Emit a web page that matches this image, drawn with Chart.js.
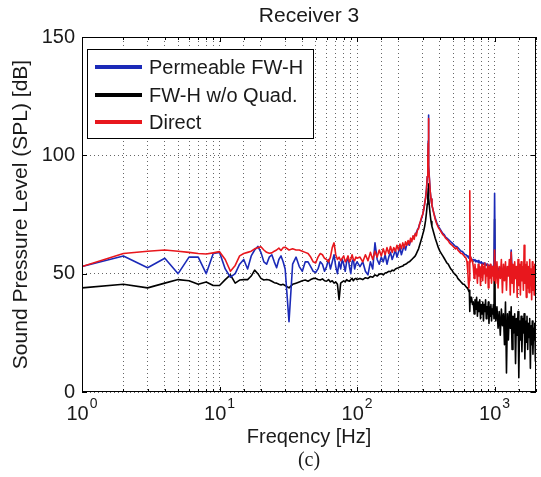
<!DOCTYPE html>
<html>
<head>
<meta charset="utf-8">
<script src="https://cdn.jsdelivr.net/npm/chart.js@4.4.0/dist/chart.umd.min.js"></script>
<style>
  html, body { margin: 0; padding: 0; background: #fff; }
  #wrap { position: relative; width: 541px; height: 477px; }
</style>
</head>
<body>
<div id="wrap"><canvas id="chart"></canvas></div>
<script>
// frequency bins [Hz]
const freqs = [
  1,2,3,4,5,6,7,8,9,10,11,12,13,14,15,16,17,18,19,20,21,22,23,24,25,26,27,28,29,30,
  32,34,36,38,40,42,44,46,48,50,52,54,56,58,60,62,64,66,68,70,72,74,76,78,80,82,84,86,88,90,92,94,96,98,100,
  105,110,115,120,125,130,135,140,145,150,155,160,165,170,175,180,185,190,195,200,205,210,215,220,225,230,235,240,245,250,255,260,265,270,275,280,285,290,295,
  300,305,310,315,320,324,327,329,330,331,333,336,340,345,350,360,370,380,390,
  400,410,420,430,440,450,460,470,480,490,500,510,520,530,540,550,560,570,580,590,600,610,620,630,640,645,650,655,660,665,670,680,690,
  700,710,720,730,740,750,760,770,780,790,800,810,820,830,840,850,860,870,880,890,900,910,920,930,940,950,960,970,980,990,1000,1010,
  1020,1040,1060,1080,1100,1120,1140,1160,1180,1200,1220,1240,1260,1280,1300,1320,1340,1360,1380,1400,1420,1440,1460,1480,1500,1520,1540,1560,1580,1600,1620,1640,1660,1680,1700,1720,1740,1760,1780,1800,1820,1840,1860,1880,1900,1920,1940,1960,1980,2000
];

// SPL [dB], one value per bin
const permeable = [
  53,57.5,52.5,56.5,50,57,57,50,58.5,59,52,48.5,50,54,56,52,57.5,60,61.5,59,55,54,57,58,55,52.5,56,57.5,55,52,
  29.7,54,57,53,51,55,55,53,51,50.5,52,55,54,51,53,56,52,55,58,53,50,55,52,56,54,51,55,57,53,50,55,56,52,54,55,
  53,55,51,49.5,55,52,63,56,54,57,55,58,54,57,59,56,58,60,57,59,61,58,60,62,60,62.5,63,62,64,64.5,65,66,66.5,67.5,68.5,69.5,71,72,73.5,
  75,77,79.5,82,86,91,98,106,117,104,96,90,85,81.5,79,76,73.5,71.5,70,
  69,68,67,66.5,65.5,65,64.5,64,63.5,63,62.5,62,61.5,61.5,61,60.5,60,59.5,59.5,59,58.5,58,58,57.5,57,57,56.5,57,70,57,56.5,56,56,
  56,55.5,56,55,55.5,55,55.5,54.5,55,54.5,55,54,54.5,54,54.5,54,53.5,54,53.5,54,53,53.5,53,53.5,53,52.5,53,52.5,53,52.5,84,53,
  52,53,51,52.5,51,53,50,52,51,53,50,52,51,52.5,50,60,51,52,50,52.5,50.5,52,49.5,52,50,51.5,49.5,52,50,51.5,49,52,50,51.5,49,51.5,49.5,51,49,51.5,49.5,51,48.5,51,49,50.5,48.5,50.5,49,50
];

const noQuad = [
  44,45.5,44,46,47.5,47,45.5,46.5,45,45,47.5,49.5,46,47.3,47.5,47.5,49,51.5,50,48,47.3,47.5,47.3,46.8,46.2,46,45.5,45.2,45.5,45,
  44,45.5,46,46.5,47,47.3,46.8,47.5,48,48,47.5,47.3,47.8,47,46.8,47.5,46.5,47,46,46.5,45.5,39,46,46.5,47,46.5,47.5,47,46.8,47.5,48,47,47.8,48,47.5,
  48,47.5,48.3,48,48.8,48.5,49.5,49,49.8,50,49.5,50.3,50.5,51,50.8,51.5,51.2,52,52.3,52.5,52.8,53,53.2,53.8,54,54.3,54.8,55,55.5,56,56.5,57,57.5,58.5,59.5,60.5,62,63.5,65,
  66.5,68,70,72.5,76,79.5,83,86,88,86,82,78,75,72,70,67.5,65,63,61,
  59.5,58.5,57.5,56.5,55.5,54.5,54,53,52,51.5,50.5,50,49.5,49,48,47.5,47,46.5,46,45.5,45.5,45,44.5,44,43.5,43,42.5,43,34,40,38,40,37,
  38,33,39,35,40,32,38,34,39,31,37,33,38,30,37,34,39,31,36,33,38,29,36,32,37,30,35,33,37,31,73,35,
  30,36,27,34,24,35,28,33,20,38,8,33,22,34,27,36,18,32,25,33,12,31,24,34,6,30,22,32,17,31,25,33,14,30,21,32,18,29,23,31,10,28,20,30,16,27,22,29,13,25
];

const direct = [
  53,58.5,59.5,60,59.5,59,58.5,58.3,58.8,59.3,56,51,53.5,57.5,58.5,59,59.5,60.5,61,61.4,60,59,58.6,58.8,59.5,60,60.8,59.8,61,61.2,
  60,60.5,60,60,59.5,59,58.5,57,55,54.5,57,58.5,58,56.5,56,55,57,61,63,58,56,57,55.5,56.5,57.5,55,56,57.5,55,56,58,56,55.5,57,56.5,
  57,55,58,55.5,59,56,59.5,57,60,57.5,60.5,58,61,58.5,61.5,59,61,59.5,62,60,62.5,60.5,63,61,63.5,62,64,62.5,65,63.5,66,64.5,67,66,68.5,69,71,72.5,74,
  75,77,79.5,82,86,91,98,105,115.5,103,95,89.5,85,81.5,79,76,73,71,69.5,
  68.5,67.5,66.5,66,65,64.5,64,63,62.5,62,61.5,61,60.5,61,60,59.5,59,58.5,58.5,58,57.5,57,56.5,55,50,46,44,47,85,55,57,56,55.5,
  53,48,54,50,52,46,54,49,53,45,52,54,47,53,50,54.5,46,52,49,54,44,53,48,54,51,46,53,49,52,47,60,52,
  46,55,44,53,48,56,42,54,47,55,43,53,49,56,41,59,46,54,42,55,48,53,40,56,45,54,41,55,47,53,43,62,46,54,40,55,44,53,42,56,45,52,39,55,43,53,41,54,44,50
];

const seriesLabels = ['Permeable FW-H', 'FW-H w/o Quad.', 'Direct'];
const xDecades = [1, 10, 100, 1000];
const xExponents = ['0', '1', '2', '3'];
const yTicks = [0, 50, 100, 150];

[permeable, noQuad, direct].forEach((s, i) => {
  if (s.length !== freqs.length) throw new Error(seriesLabels[i] + ' has ' + s.length + ' values, expected ' + freqs.length);
});

const FONT = "'Liberation Sans', Arial, sans-serif";
const TEXT = '#1a1a1a';

const pts = (vals) => freqs.map((f, i) => ({ x: f, y: vals[i] }));

// frame, inward ticks, legend box, titles, x tick labels with exponents
const decor = {
  id: 'decor',
  afterDatasetsDraw(chart) {
    const { ctx, chartArea: a, scales: { x, y } } = chart;
    ctx.save();
    ctx.strokeStyle = '#000';
    ctx.lineWidth = 1;
    ctx.strokeRect(a.left + 0.5, a.top + 0.5, a.right - a.left - 1, a.bottom - a.top - 1);

    ctx.beginPath();
    x.ticks.forEach(t => {
      const px = Math.round(x.getPixelForValue(t.value)) + 0.5;
      const len = xDecades.includes(t.value) ? 5 : 3;
      ctx.moveTo(px, a.bottom); ctx.lineTo(px, a.bottom - len);
      ctx.moveTo(px, a.top); ctx.lineTo(px, a.top + len);
    });
    yTicks.forEach(v => {
      const py = Math.round(y.getPixelForValue(v)) + 0.5;
      ctx.moveTo(a.left, py); ctx.lineTo(a.left + 5, py);
      ctx.moveTo(a.right, py); ctx.lineTo(a.right - 5, py);
    });
    ctx.stroke();

    // legend
    const bx = 87.5, by = 49.5, bw = 226, bh = 89;
    ctx.fillStyle = '#fff';
    ctx.fillRect(bx, by, bw, bh);
    ctx.strokeStyle = '#000';
    ctx.strokeRect(bx, by, bw, bh);
    const rows = [67, 95, 122];
    const ds = chart.data.datasets;
    ctx.font = '20px ' + FONT;
    ctx.textBaseline = 'middle';
    ctx.textAlign = 'left';
    ds.forEach((d, i) => {
      ctx.strokeStyle = d.borderColor;
      ctx.lineWidth = 4;
      ctx.beginPath();
      ctx.moveTo(95, rows[i]); ctx.lineTo(142, rows[i]);
      ctx.stroke();
      ctx.fillStyle = TEXT;
      ctx.fillText(d.label, 149, rows[i] + 1);
    });
    ctx.restore();
  },
  afterDraw(chart) {
    const { ctx, chartArea: a, scales: { x } } = chart;
    const cx = (a.left + a.right) / 2;
    ctx.save();
    ctx.fillStyle = TEXT;
    ctx.textBaseline = 'middle';
    ctx.textAlign = 'center';
    ctx.font = '21px ' + FONT;
    ctx.fillText('Receiver 3', cx, 16);
    ctx.font = '20px ' + FONT;
    ctx.fillText('Freqency [Hz]', cx, 437);
    ctx.save();
    ctx.translate(21, (a.top + a.bottom) / 2);
    ctx.rotate(-Math.PI / 2);
    ctx.font = '21px ' + FONT;
    ctx.fillText('Sound Pressure Level (SPL) [dB]', 0, 0);
    ctx.restore();
    ctx.font = "20px 'Liberation Serif', 'Times New Roman', serif";
    ctx.fillText('(c)', cx, 461);

    // 10^k labels
    ctx.textBaseline = 'alphabetic';
    ctx.textAlign = 'left';
    xDecades.forEach((v, i) => {
      const px = x.getPixelForValue(v);
      ctx.font = '20px ' + FONT;
      const wb = ctx.measureText('10').width;
      ctx.font = '14px ' + FONT;
      const we = ctx.measureText(xExponents[i]).width;
      const left = px - (wb + we + 1) / 2;
      ctx.font = '20px ' + FONT;
      ctx.fillText('10', left, 420);
      ctx.font = '14px ' + FONT;
      ctx.fillText(xExponents[i], left + wb + 1, 408);
    });
    ctx.restore();
  }
};

new Chart(document.getElementById('chart'), {
  type: 'line',
  data: {
    datasets: [
      { label: seriesLabels[0], data: pts(permeable), borderColor: '#1b2ab8', order: 1 },
      { label: seriesLabels[1], data: pts(noQuad), borderColor: '#000000', order: 2 },
      { label: seriesLabels[2], data: pts(direct), borderColor: '#e8171d', order: 0 }
    ]
  },
  options: {
    responsive: true,
    maintainAspectRatio: false,
    animation: false,
    events: [],
    layout: { padding: { top: 37, right: 5, left: 0, bottom: 0 } },
    elements: {
      point: { radius: 0 },
      line: { borderWidth: 1.6, tension: 0, borderJoinStyle: 'round' }
    },
    plugins: {
      legend: { display: false },
      tooltip: { enabled: false },
      title: { display: false }
    },
    scales: {
      x: {
        type: 'logarithmic',
        min: 1,
        max: 2000,
        afterFit: (s) => { s.height = 85; },
        ticks: { display: false, autoSkip: false },
        grid: { color: 'rgba(0,0,0,0.6)', lineWidth: 1, drawTicks: false },
        border: { display: false, dash: [1, 3] }
      },
      y: {
        min: 0,
        max: 150,
        afterFit: (s) => { s.width = 82; },
        ticks: {
          stepSize: 50,
          padding: 7,
          color: TEXT,
          font: { family: FONT, size: 20 }
        },
        grid: { color: 'rgba(0,0,0,0.6)', lineWidth: 1, drawTicks: false },
        border: { display: false, dash: [1, 3] }
      }
    }
  },
  plugins: [decor]
});
</script>
</body>
</html>
